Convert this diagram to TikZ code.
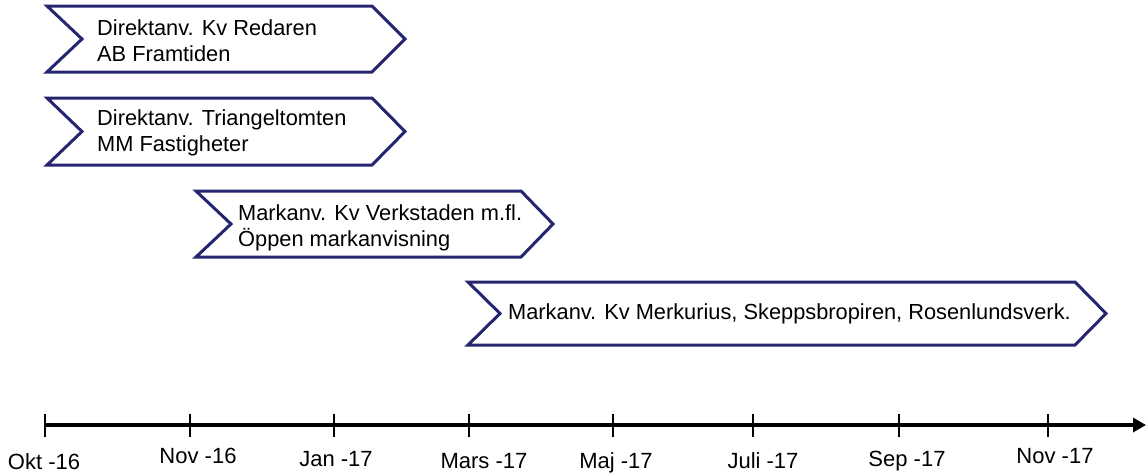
\documentclass[tikz,border=0pt]{standalone}
\usepackage{fontspec}
\setmainfont{Liberation Sans}
\usetikzlibrary{arrows.meta}
\definecolor{navy}{RGB}{38,38,112}
\tikzset{
  chev/.style={draw=navy, line width=3pt, fill=white, line join=miter},
  chevtext/.style={anchor=west, align=left, inner sep=0pt, font=\fontsize{21.8}{26}\selectfont},
  tick/.style={line width=2pt, black},
  ticklabel/.style={anchor=base, inner sep=0pt, font=\fontsize{22}{24}\selectfont},
  axis/.style={line width=3.5pt, black, -{Triangle[length=13pt,width=14pt]}}
}
\begin{document}
\begin{tikzpicture}[x=1pt,y=-1pt]
\useasboundingbox (0,0) rectangle (1146,475);
% chevrons
\draw[chev] (47,6) -- (372,6) -- (405,39) -- (372,72) -- (47,72) -- (82,39) -- cycle;
\node[chevtext] (c1) at (97,41) {Direktanv. Kv Redaren\\AB Framtiden};
\draw[chev] (47,98) -- (372,98) -- (405,131.5) -- (372,165) -- (47,165) -- (82,131.5) -- cycle;
\node[chevtext] (c2) at (97,133) {Direktanv. Triangeltomten\\MM Fastigheter};
\draw[chev] (196,191) -- (521,191) -- (553,224) -- (521,257) -- (196,257) -- (231,224) -- cycle;
\node[chevtext] (c3) at (238,228) {Markanv. Kv Verkstaden m.fl.\\Öppen markanvisning};
\draw[chev] (468,282) -- (1075,282) -- (1106,313.5) -- (1075,345) -- (468,345) -- (500,313.5) -- cycle;
\node[chevtext] (c4) at (508,314) {Markanv. Kv Merkurius, Skeppsbropiren,\ Rosenlundsverk.};
% axis
\coordinate (a0) at (44,425);
\coordinate (a1) at (1146,425);
\draw[axis] (a0) -- (a1);
\foreach \x/\lx/\by/\t/\n in {45/44/469/Okt -16/t1, 190/198/463/Nov -16/t2, 334/336/466/Jan -17/t3, 469/484/468/Mars -17/t4, 613/616/468/Maj -17/t5, 753/763/468/Juli -17/t6, 899/907/466/Sep -17/t7, 1048/1055/463/Nov -17/t8}{
  \coordinate (\n a) at (\x,414);
  \coordinate (\n b) at (\x,437);
  \draw[tick] (\n a) -- (\n b);
  \node[ticklabel] (\n l) at (\lx,\by) {\t};
}
\end{tikzpicture}
\end{document}
